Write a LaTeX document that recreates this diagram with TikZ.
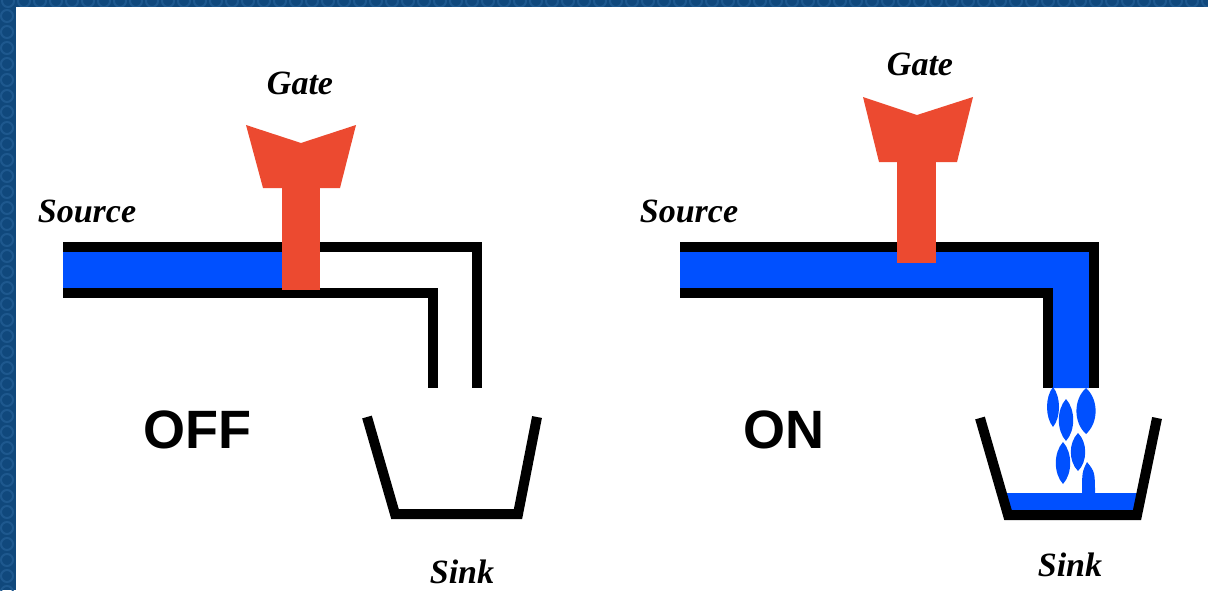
\documentclass[tikz,border=0pt]{standalone}
\usepackage{fontspec}
\setmainfont{Liberation Serif}
\setsansfont{Liberation Sans}
\usetikzlibrary{positioning}
\definecolor{frameblue}{RGB}{16,72,124}
\definecolor{dotblue}{RGB}{30,88,142}
\definecolor{water}{RGB}{0,80,255}
\definecolor{gatered}{RGB}{236,74,48}
\tikzset{
    wall/.style={line width=5pt, line join=miter}, % pipe and sink walls
    tag/.style={font=\fontsize{17}{17}\selectfont\bfseries\itshape}, % small labels
    state/.style={font=\fontsize{27}{27}\selectfont\sffamily\bfseries}, % OFF / ON
}
% spindle shaped drop: centre x, centre y, half width, half height
\newcommand{\waterdrop}[4]{%
    \fill[water] (#1,#2-#4) .. controls (#1+1.6*#3,#2-0.5*#4) and (#1+1.6*#3,#2+0.5*#4) .. (#1,#2+#4)
        .. controls (#1-1.6*#3,#2+0.5*#4) and (#1-1.6*#3,#2-0.5*#4) .. (#1,#2-#4) -- cycle;}

\begin{document}
\begin{tikzpicture}[x=0.5pt, y=-0.5pt]
    \useasboundingbox (0,0) rectangle (1208,590);

    % --- Frame ---
    \fill[frameblue] (0,0) rectangle (1208,590);
    \foreach \i in {0,...,75}
        \draw[dotblue, line width=1pt] (\i*16+8,1) circle (6);
    \foreach \j in {1,...,37}
        \draw[dotblue, line width=1pt] (7,\j*16) circle (6);
    \fill[white] (16,7) rectangle (1208,590);

    % --- OFF side ---
    \fill[water] (63,252) rectangle (282,288);
    \draw[wall] (63,247) -- (477,247) -- (477,388);
    \draw[wall] (63,293) -- (433,293) -- (433,388);
    % gate
    \fill[gatered] (282,186) rectangle (320,290);
    \fill[gatered] (246,125) -- (301,143) -- (356,125) -- (340,188) -- (263,188) -- cycle;
    % sink
    \draw[wall] (367,417) -- (395,514) -- (518,514) -- (537,417);

    \node[tag] (gate1) at (300,83) {Gate};
    \node[tag] (src1) at (87,211) {Source};
    \node[tag] (sink1) at (462,572) {Sink};
    \node[state] (off) at (197,430) {OFF};

    % --- ON side ---
    \fill[water] (680,252) -- (1089,252) -- (1089,388) -- (1053,388)
        -- (1053,288) -- (680,288) -- cycle;
    \draw[wall] (680,247) -- (1094,247) -- (1094,388);
    \draw[wall] (680,293) -- (1048,293) -- (1048,388);
    % gate
    \fill[gatered] (897,158) rectangle (936,263);
    \fill[gatered] (863,97) -- (917,115) -- (973,97) -- (957,162) -- (879,162) -- cycle;
    % falling water
    \waterdrop{1053}{407}{5}{20}
    \waterdrop{1066}{420}{6}{21}
    \waterdrop{1086}{411}{8}{23}
    \waterdrop{1063}{463}{6}{21}
    \waterdrop{1078}{452}{6}{19}
    \fill[water] (1087,462) .. controls (1095,472) .. (1095,496) -- (1082,496)
        .. controls (1082,472) .. (1087,462) -- cycle;
    % water in the sink
    \fill[water] (1001,493) -- (1008,515) -- (1137,515) -- (1142,493) -- cycle;
    \draw[wall] (980,418) -- (1008,515) -- (1137,515) -- (1157,418);

    \node[tag] (gate2) at (920,64) {Gate};
    \node[tag] (src2) at (689,211) {Source};
    \node[tag] (sink2) at (1070,565) {Sink};
    \node[state] (on) at (784,430) {ON};

\end{tikzpicture}
\end{document}
